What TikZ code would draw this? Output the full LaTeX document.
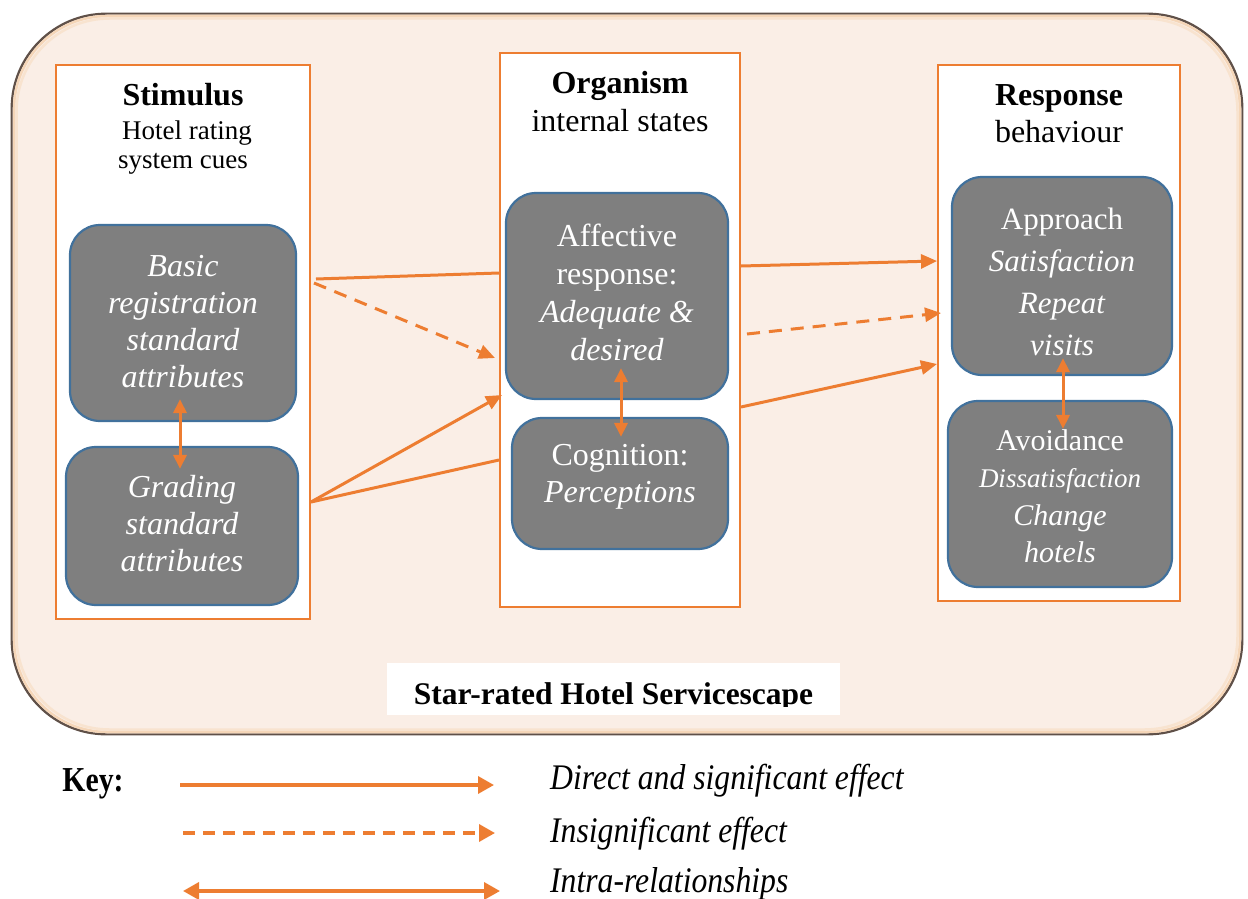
\documentclass[tikz,border=0pt]{standalone}
\usepackage{fontspec}
\setmainfont{Liberation Serif}
\usetikzlibrary{arrows.meta,calc}
\definecolor{accent}{HTML}{ED7D31}
\definecolor{peach}{HTML}{FAEEE6}
\definecolor{boxfill}{HTML}{7F7F7F}
\definecolor{boxedge}{HTML}{41719C}
\definecolor{rimdark}{HTML}{5F5048}
\definecolor{rimlight}{HTML}{F5D6B8}
\definecolor{rimsoft}{HTML}{F8E3CF}
\newcommand{\fs}[2]{\fontsize{#1}{#2}\selectfont}
\begin{document}
\begin{tikzpicture}[x=1pt,y=-1pt,
  frame/.style={rectangle,fill=peach,draw=rimdark,line width=1.4pt,rounded corners=95pt,inner sep=0},
  framerim/.style={rectangle,draw=#1,line width=2.5pt,rounded corners=93pt,inner sep=0},
  colbox/.style={rectangle,draw=accent,line width=2pt,fill=white,inner sep=0},
  graybox/.style={rectangle,draw=boxedge,line width=2.2pt,fill=boxfill,rounded corners=30pt,inner sep=0},
  boxtext/.style={text=white,align=center,inner sep=0,font=\fs{32}{37}},
  headtext/.style={anchor=base,inner sep=0,font=\fs{32}{38}\bfseries},
  subtext/.style={anchor=base,inner sep=0,font=\fs{32}{38}},
  link/.style={draw=accent,line width=3pt},
  eff/.style={link,-{Triangle[length=16pt,width=14pt]}},
  insig/.style={link,dash pattern=on 13pt off 9pt,-{Triangle[length=16pt,width=14pt]}},
  intra/.style={link,{Triangle[length=14pt,width=13pt]}-{Triangle[length=14pt,width=13pt]}},
  keylink/.style={draw=accent,line width=3.5pt},
  keytext/.style={anchor=base west,inner sep=0,font=\fs{36}{40}\itshape,xscale=.88,transform shape},
]
\useasboundingbox (0,0) rectangle (1248,899);

% servicescape frame with its soft inner rim
\node[frame,minimum width=1230pt,minimum height=720pt] (frame) at (627,374) {};
\node[framerim=rimlight,minimum width=1226pt,minimum height=716pt] (rim) at (627,374) {};
\node[framerim=rimsoft,minimum width=1221pt,minimum height=711pt] (rim2) at (627,374) {};
\draw[rimdark,line width=1.4pt,rounded corners=95pt] (frame.south west) rectangle (frame.north east);

% the three S-O-R columns
\node[colbox,minimum width=254pt,minimum height=554pt] (stim) at (183,342) {};
\node[colbox,minimum width=240pt,minimum height=554pt] (org) at (620,330) {};
\node[colbox,minimum width=242pt,minimum height=536pt] (resp) at (1059,333) {};

% column headings
\node[headtext] (stimhead) at (183,106) {Stimulus};
\node[subtext,font=\fs{27}{30}] (stimsub1) at (187,139) {Hotel rating};
\node[subtext,font=\fs{27}{30}] (stimsub2) at (183,168) {system cues};
\node[headtext] (orghead) at (620,94) {Organism};
\node[subtext] (orgsub) at (620,131) {internal states};
\node[headtext] (resphead) at (1059,106) {Response};
\node[subtext] (respsub) at (1059,142) {behaviour};

% construct boxes
\node[graybox,minimum width=226pt,minimum height=196pt] (basic) at (183,323) {};
\node[graybox,minimum width=232pt,minimum height=158pt] (grading) at (182,526) {};
\node[graybox,minimum width=222pt,minimum height=206pt] (affect) at (617,296) {};
\node[graybox,minimum width=216pt,minimum height=131pt] (cognit) at (620,483.5) {};
\node[graybox,minimum width=220pt,minimum height=198pt] (approach) at (1062,276) {};
\node[graybox,minimum width=224pt,minimum height=186pt] (avoid) at (1060,494) {};

\node[boxtext] (basictxt) at (183,322) {\itshape Basic\\\itshape registration\\\itshape standard\\\itshape attributes};
\node[boxtext] (gradingtxt) at (182,524) {\itshape Grading\\\itshape standard\\\itshape attributes};
\node[boxtext,font=\fs{32}{38}] (affecttxt) at (617,292) {Affective\\response:\\{\itshape Adequate \&}\\{\itshape desired}};
\node[boxtext] (cognittxt) at (620,477) {Cognition:\\{\itshape Perceptions}};
\node[boxtext,font=\fs{31}{42}] (approachtxt) at (1062,282) {Approach\\{\itshape Satisfaction}\\{\itshape Repeat}\\{\itshape visits}};
\node[boxtext,font=\fs{30}{37.5}] (avoidtxt) at (1060,496) {Avoidance\\{\fs{27}{37.5}\itshape Dissatisfaction}\\{\itshape Change}\\{\itshape hotels}};

% stimulus -> organism
\draw[link] ($(stim.east|-0,279)+(5,0)$) -- (org.west|-0,273);
\draw[insig] ($(stim.east|-0,283)+(3,0)$) -- ($(org.west|-0,358)+(-4,0)$);
\draw[eff] (stim.east|-0,502) -- ($(org.west|-0,395)+(3,0)$);
\draw[link] (stim.east|-0,502) -- (org.west|-0,460);

% organism -> response
\draw[eff] (org.east|-0,266) -- (resp.west|-0,261);
\draw[insig] ($(org.east|-0,334)+(6,0)$) -- ($(resp.west|-0,313)+(4,0)$);
\draw[eff] (org.east|-0,407) -- (resp.west|-0,364);

% intra-relationships
\draw[intra] ($(basic.south)+(-3,-23)$) -- ($(grading.north)+(-2,23)$);
\draw[intra] ($(affect.south)+(4,-32)$) -- ($(cognit.north)+(1,20)$);
\draw[intra] ($(approach.south)+(1,-18)$) -- ($(avoid.north)+(3,29)$);

% caption plate; its text is cut just below the baseline
\node[rectangle,fill=white,inner sep=0,minimum width=453pt,minimum height=52pt] (plate) at (613.5,689) {};
\begin{scope}
  \clip (plate.north west) rectangle (plate.east|-0,706);
  \node[anchor=base,inner sep=0,font=\fs{31.5}{34}\bfseries] (platetxt) at (plate.center|-0,704) {Star-rated Hotel Servicescape};
\end{scope}

% key
\node[anchor=base,inner sep=0,font=\fs{35}{38}\bfseries,xscale=.85,transform shape] (key) at (93,791) {Key:};
\coordinate (k1a) at (180,785);
\coordinate (k1b) at (494,785);
\coordinate (k2a) at (183,833);
\coordinate (k2b) at (495,833);
\coordinate (k3a) at (183,891);
\coordinate (k3b) at (500,891);
\draw[keylink,-{Triangle[length=16pt,width=17pt]}] (k1a) -- (k1b);
\draw[keylink,dash pattern=on 12pt off 8pt,-{Triangle[length=16pt,width=17pt]}] (k2a) -- (k2b);
\draw[keylink,{Triangle[length=16pt,width=17pt]}-{Triangle[length=16pt,width=17pt]}] (k3a) -- (k3b);
\node[keytext] (key1) at (550,789) {Direct and significant effect};
\node[keytext] (key2) at (550,842) {Insignificant effect};
\node[keytext] (key3) at (550,892) {Intra-relationships};
\end{tikzpicture}
\end{document}
